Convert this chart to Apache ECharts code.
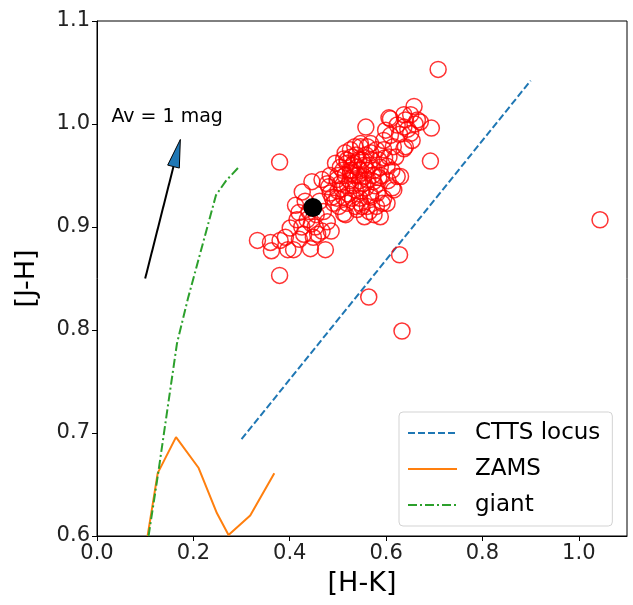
<!DOCTYPE html>
<html>
<head>
<meta charset="utf-8">
<script src="https://cdn.jsdelivr.net/npm/echarts@6/dist/echarts.min.js"></script>
<style>
  html, body { margin: 0; padding: 0; background: #fff; }
  #chart { width: 633px; height: 605px; }
</style>
</head>
<body>
<div id="chart"></div>
<script>
// Axis ticks
const xTicks = [0.0, 0.2, 0.4, 0.6, 0.8, 1.0];
const yTicks = [0.6, 0.7, 0.8, 0.9, 1.0, 1.1];

// Reference loci in the [H-K] vs [J-H] plane
const cttsLocus = [[0.30, 0.694], [0.90, 1.042]];
const zams = [
  [0.105, 0.600], [0.126, 0.661], [0.164, 0.696], [0.211, 0.666],
  [0.249, 0.622], [0.273, 0.601], [0.318, 0.620], [0.368, 0.661]
];
const giant = [
  [0.107, 0.600], [0.127, 0.661], [0.148, 0.729], [0.166, 0.787],
  [0.189, 0.831], [0.247, 0.931], [0.268, 0.945], [0.296, 0.959]
];

// Member stars (open red circles)
const stars = [
  // outliers
  [0.708, 1.053], [0.694, 0.996], [0.692, 0.964], [0.379, 0.963], [0.379, 0.853],
  [0.564, 0.832], [0.628, 0.873], [0.633, 0.799], [1.044, 0.907], [0.558, 0.997],
  // lower-left group
  [0.333, 0.887], [0.360, 0.885], [0.362, 0.877], [0.380, 0.887], [0.391, 0.890],
  [0.396, 0.878], [0.408, 0.878], [0.401, 0.899], [0.419, 0.914], [0.415, 0.907],
  [0.443, 0.879], [0.474, 0.878], [0.426, 0.934], [0.446, 0.944], [0.467, 0.946],
  [0.453, 0.900], [0.467, 0.896], [0.486, 0.896], [0.478, 0.905], [0.436, 0.907],
  [0.429, 0.893], [0.440, 0.915], [0.455, 0.912], [0.432, 0.925], [0.462, 0.925],
  [0.449, 0.890], [0.425, 0.900], [0.445, 0.903], [0.458, 0.893], [0.470, 0.915],
  [0.420, 0.888], [0.412, 0.921],
  // central group
  [0.502, 0.920], [0.516, 0.912], [0.488, 0.929], [0.512, 0.929], [0.481, 0.939],
  [0.505, 0.942], [0.529, 0.955], [0.536, 0.936], [0.543, 0.965], [0.550, 0.920],
  [0.495, 0.962], [0.484, 0.950], [0.478, 0.942], [0.498, 0.946], [0.540, 0.917],
  [0.519, 0.923], [0.561, 0.920], [0.588, 0.910], [0.491, 0.923], [0.484, 0.933],
  [0.526, 0.952], [0.547, 0.955], [0.519, 0.962], [0.512, 0.966], [0.526, 0.975],
  [0.547, 0.978], [0.568, 0.981], [0.533, 0.962], [0.526, 0.955], [0.519, 0.965],
  [0.561, 0.978], [0.547, 0.981], [0.568, 0.972], [0.585, 0.965], [0.602, 0.959],
  [0.554, 0.949], [0.574, 0.944], [0.568, 0.929], [0.582, 0.933], [0.595, 0.928],
  [0.602, 0.923], [0.613, 0.938], [0.623, 0.949], [0.592, 0.923], [0.568, 0.931],
  [0.547, 0.923], [0.536, 0.920], [0.512, 0.913], [0.575, 0.912], [0.555, 0.910],
  [0.530, 0.960], [0.540, 0.958], [0.535, 0.950], [0.545, 0.945], [0.525, 0.945],
  [0.550, 0.965], [0.520, 0.940], [0.538, 0.970], [0.555, 0.960], [0.515, 0.950],
  [0.532, 0.940], [0.548, 0.935], [0.560, 0.955], [0.500, 0.935], [0.510, 0.955],
  [0.575, 0.955], [0.580, 0.975], [0.590, 0.950], [0.570, 0.965], [0.500, 0.950],
  [0.505, 0.958], [0.515, 0.972], [0.528, 0.968], [0.535, 0.978], [0.542, 0.950],
  [0.552, 0.942], [0.558, 0.970], [0.565, 0.960], [0.572, 0.950], [0.578, 0.940],
  [0.585, 0.948], [0.522, 0.932], [0.545, 0.928], [0.558, 0.938], [0.530, 0.928],
  [0.498, 0.928], [0.508, 0.937], [0.562, 0.946], [0.588, 0.958], [0.597, 0.967],
  [0.612, 0.955], [0.615, 0.978], [0.604, 0.945], [0.580, 0.920], [0.565, 0.915],
  // upper-right group
  [0.606, 1.006], [0.637, 1.009], [0.599, 0.994], [0.609, 0.989], [0.640, 0.978],
  [0.651, 0.991], [0.595, 0.975], [0.595, 0.984], [0.609, 1.005], [0.623, 0.999],
  [0.620, 0.968], [0.606, 0.968], [0.616, 0.936], [0.658, 1.017], [0.651, 1.009],
  [0.665, 1.004], [0.671, 1.002], [0.640, 1.004], [0.637, 0.997], [0.654, 0.984],
  [0.637, 0.976], [0.630, 0.949], [0.660, 1.000], [0.645, 0.995], [0.628, 0.990]
];

// Mean colour of the cluster
const meanStar = [[0.448, 0.919]];

// Reddening vector: tail (x, y) -> tip (x, y), and its label anchor
const reddeningVector = [[0.10, 0.85, 0.173, 0.985]];
const vectorLabel = 'Av = 1 mag';
const vectorLabelAnchor = [0.03, 1.0];

const FONT = '"DejaVu Sans", "Liberation Sans", sans-serif';

const chart = echarts.init(document.getElementById('chart'), null, { renderer: 'canvas' });

const fmt = v => (Math.round(v * 10) / 10).toFixed(1);

chart.setOption({
  animation: false,
  backgroundColor: '#fff',
  grid: {
    left: 97, right: 6, top: 21, bottom: 69,
    show: true, borderColor: '#000', borderWidth: 1, backgroundColor: 'transparent'
  },
  xAxis: {
    type: 'value', min: 0, max: 1.1,
    name: '[H-K]', nameLocation: 'middle', nameGap: 34,
    nameTextStyle: { fontSize: 27, fontFamily: FONT, color: '#000' },
    axisLine: { show: true, onZero: false, lineStyle: { color: '#000', width: 1 } },
    axisTick: { show: true, inside: false, length: 5, lineStyle: { color: '#000' }, customValues: xTicks },
    axisLabel: { fontSize: 21, fontFamily: FONT, color: '#222', margin: 7, customValues: xTicks, formatter: fmt },
    splitLine: { show: false }
  },
  yAxis: {
    type: 'value', min: 0.6, max: 1.1,
    name: '[J-H]', nameLocation: 'middle', nameGap: 57, nameRotate: 90,
    nameTextStyle: { fontSize: 27, fontFamily: FONT, color: '#000' },
    axisLine: { show: true, onZero: false, lineStyle: { color: '#000', width: 1 } },
    axisTick: { show: true, inside: false, length: 5, lineStyle: { color: '#000' }, customValues: yTicks },
    axisLabel: { fontSize: 21, fontFamily: FONT, color: '#222', margin: 7, customValues: yTicks, formatter: fmt },
    splitLine: { show: false }
  },
  legend: {
    data: ['CTTS locus', 'ZAMS', 'giant'],
    orient: 'vertical', left: 399, top: 412,
    padding: [9, 12, 9, 8],
    itemWidth: 49, itemHeight: 14, itemGap: 12,
    itemStyle: { color: 'rgba(0,0,0,0)', borderColor: 'rgba(0,0,0,0)', borderWidth: 0 },
    backgroundColor: 'rgba(255,255,255,0.8)', borderColor: '#d3d3d3', borderWidth: 1, borderRadius: 4,
    textStyle: { fontSize: 23, fontFamily: FONT, color: '#000', lineHeight: 24, padding: [0, 0, 0, 13] },
    selectedMode: false
  },
  series: [
    {
      name: 'CTTS locus', type: 'line', data: cttsLocus, symbol: 'none',
      lineStyle: { color: '#1f77b4', width: 2, type: [7, 3] }, itemStyle: { color: '#1f77b4' }, z: 2
    },
    {
      name: 'ZAMS', type: 'line', data: zams, symbol: 'none',
      lineStyle: { color: '#ff7f0e', width: 2 }, itemStyle: { color: '#ff7f0e' }, z: 2
    },
    {
      name: 'giant', type: 'line', data: giant, symbol: 'none',
      lineStyle: { color: '#2ca02c', width: 2, type: [9, 3, 2, 3] }, itemStyle: { color: '#2ca02c' }, z: 2
    },
    {
      name: 'stars', type: 'scatter', data: stars, symbol: 'circle', symbolSize: 16,
      itemStyle: { color: 'rgba(0,0,0,0)', borderColor: '#ff0000', borderWidth: 1.5 }, z: 3
    },
    {
      name: 'mean', type: 'scatter', data: meanStar, symbol: 'circle', symbolSize: 19,
      itemStyle: { color: '#000', opacity: 1 }, z: 10, zlevel: 0
    },
    {
      name: 'reddening', type: 'custom', data: reddeningVector, z: 5,
      renderItem: function (params, api) {
        const p0 = api.coord([api.value(0), api.value(1)]);
        const p1 = api.coord([api.value(2), api.value(3)]);
        const dx = p1[0] - p0[0], dy = p1[1] - p0[1];
        const len = Math.sqrt(dx * dx + dy * dy);
        const ux = dx / len, uy = dy / len;
        const headLen = 28, headHalf = 6;
        const bx = p1[0] - ux * headLen, by = p1[1] - uy * headLen;
        const nx = -uy, ny = ux;
        const a = api.coord(vectorLabelAnchor);
        const fs = 19;
        return {
          type: 'group',
          children: [
            { type: 'line', shape: { x1: p0[0], y1: p0[1], x2: bx, y2: by },
              style: { stroke: '#000', lineWidth: 2 } },
            { type: 'polygon',
              shape: { points: [[p1[0], p1[1]], [bx + nx * headHalf, by + ny * headHalf], [bx - nx * headHalf, by - ny * headHalf]] },
              style: { fill: '#1f77b4', stroke: '#000', lineWidth: 1 } },
            { type: 'text', x: a[0], y: a[1] - 0.35 * fs,
              style: { text: vectorLabel, fontSize: fs, fontFamily: FONT, fill: '#000', align: 'left', verticalAlign: 'middle' } }
          ]
        };
      }
    }
  ]
});
</script>
</body>
</html>
